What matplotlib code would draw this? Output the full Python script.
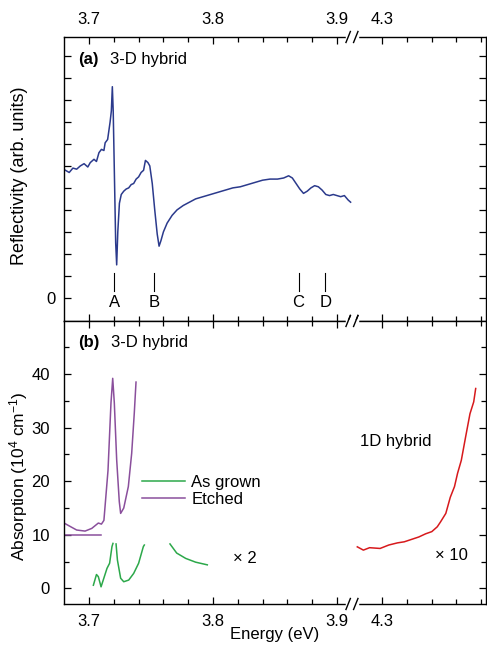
import numpy as np
import matplotlib
matplotlib.use('Agg')
import matplotlib.pyplot as plt

plt.rcParams['font.family'] = ['Liberation Sans', 'DejaVu Sans']
plt.rcParams['font.size'] = 12
plt.rcParams['mathtext.fontset'] = 'custom'
plt.rcParams['mathtext.rm'] = 'Liberation Sans'
plt.rcParams['mathtext.it'] = 'Liberation Sans:italic'

# Энергия (эВ) и отражение, панель (a)
refl_e = [3.681, 3.684, 3.687, 3.690, 3.693, 3.696, 3.699, 3.701, 3.704, 3.706,
          3.708, 3.710, 3.712, 3.713, 3.715, 3.716, 3.717, 3.718, 3.7188, 3.7195,
          3.7205, 3.7215, 3.7223, 3.7232, 3.7245, 3.726, 3.728, 3.730, 3.732, 3.734,
          3.736, 3.738, 3.740, 3.742, 3.744, 3.7455, 3.7475, 3.749, 3.751, 3.753,
          3.755, 3.7565, 3.758, 3.760, 3.763, 3.767, 3.771, 3.776, 3.781, 3.786,
          3.792, 3.798, 3.804, 3.810, 3.816, 3.822, 3.828, 3.834, 3.840, 3.846,
          3.852, 3.857, 3.861, 3.864, 3.867, 3.870, 3.873, 3.876, 3.879, 3.882,
          3.885, 3.888, 3.891, 3.894, 3.897, 3.900, 3.903, 3.906, 3.909, 3.911]
refl_r = [5.8, 5.7, 5.9, 5.85, 6.0, 6.1, 5.95, 6.15, 6.3, 6.2,
          6.6, 6.75, 6.7, 7.05, 7.2, 7.6, 8.0, 8.5, 9.6, 8.5,
          5.5, 2.5, 1.5, 3.0, 4.3, 4.7, 4.85, 4.95, 5.0, 5.15,
          5.2, 5.4, 5.5, 5.7, 5.8, 6.25, 6.15, 6.0, 5.2, 4.0,
          2.9, 2.35, 2.6, 3.0, 3.4, 3.75, 4.0, 4.2, 4.35, 4.5,
          4.6, 4.7, 4.8, 4.9, 5.0, 5.05, 5.15, 5.25, 5.35, 5.4,
          5.4, 5.45, 5.55, 5.45, 5.2, 4.95, 4.75, 4.85, 5.0, 5.1,
          5.05, 4.9, 4.7, 4.65, 4.7, 4.65, 4.6, 4.65, 4.45, 4.35]

mark_names = ['A', 'B', 'C', 'D']
mark_e = [3.7204, 3.7527, 3.869, 3.8907]

# Панель (b): протравленный образец
etched_e = [3.6806, 3.690, 3.6968, 3.7022, 3.7075, 3.710, 3.712, 3.7153, 3.7177, 3.7191,
            3.7204, 3.7223, 3.7244, 3.7255, 3.728, 3.7317, 3.7344, 3.7365, 3.7379]
etched_a = [12.1, 10.9, 10.7, 11.2, 12.2, 12.0, 12.7, 22.0, 34.6, 39.2,
            34.6, 24.0, 16.2, 14.0, 15.0, 19.0, 25.2, 32.7, 38.5]
etched_base_e = [3.6806, 3.710]
etched_base = [10, 10]

# Исходный образец (x2), с разрывами
grown_e = [3.7035, 3.706, 3.7075, 3.7097, 3.7145, 3.7166, 3.7185, 3.7193, np.nan,
           3.7218, 3.7229, 3.7255, 3.728, 3.732, 3.736, 3.740, 3.7438, 3.7446, np.nan,
           3.7653, 3.7707, 3.778, 3.786, 3.7954]
grown_a = [0.6, 2.6, 2.2, 0.3, 3.75, 4.7, 7.8, 8.4, np.nan,
           8.3, 5.3, 1.9, 1.25, 1.56, 2.8, 4.7, 7.8, 8.1, np.nan,
           8.3, 6.6, 5.6, 4.9, 4.4]

# 1D гибрид (x10)
hyb_e = [4.2801, 4.285, 4.290, 4.2985, 4.3055, 4.3125, 4.318, 4.3245, 4.3297, 4.3353,
         4.3402, 4.3446, 4.3472, 4.3515, 4.3551, 4.3585, 4.3610, 4.3640, 4.3675, 4.3710,
         4.3740, 4.3756]
hyb_a = [7.76, 7.15, 7.6, 7.46, 8.1, 8.5, 8.7, 9.2, 9.6, 10.2,
         10.6, 11.5, 12.4, 14.0, 17.0, 19.0, 21.5, 23.9, 28.3, 32.6,
         34.8, 37.3]

U_BREAK = 3.9121
U_43 = 3.9363


def to_u(e):
    e = np.asarray(e, dtype=float)
    return np.where(e > 4.0, e - 4.3 + U_43, e)


xlim = (3.6798, 4.0202)
major_u = [3.7, 3.8, 3.9, U_43]
major_lab = ['3.7', '3.8', '3.9', '4.3']
minor_u = [3.72, 3.74, 3.76, 3.78, 3.82, 3.84, 3.86, 3.88] + [U_43 + 0.02 * k for k in range(1, 5)]

fig = plt.figure(figsize=(4.87, 6.5), dpi=100)
ax_a = fig.add_axes([0.1314, 0.5062, 0.8665, 0.4369])
ax_b = fig.add_axes([0.1314, 0.0708, 0.8665, 0.4354])

for ax in (ax_a, ax_b):
    ax.set_xlim(*xlim)
    ax.set_xticks(major_u)
    ax.set_xticks(minor_u, minor=True)
    ax.tick_params(which='both', direction='in', top=True, right=True, width=0.9)
    ax.tick_params(which='major', length=5, pad=7.5)
    ax.tick_params(which='minor', length=3.5)
    for s in ax.spines.values():
        s.set_linewidth(1.0)

# (a)
ax_a.plot(to_u(refl_e), refl_r, color='#2b3a8c', lw=1.1)
for name, e in zip(mark_names, mark_e):
    ax_a.plot([e, e], [0.32, 1.14], color='black', lw=0.8)
    ax_a.text(e, -0.22, name, ha='center', va='center')
ax_a.set_ylim(-1.05, 11.86)
ax_a.set_yticks(range(0, 12))
ax_a.set_yticklabels(['0'] + [''] * 11)
ax_a.tick_params(axis='y', pad=6)
ax_a.set_xticklabels(major_lab)
ax_a.tick_params(axis='x', labelbottom=False, labeltop=True)
ax_a.set_ylabel('Reflectivity (arb. units)', fontsize=13)
ax_a.yaxis.set_label_coords(-0.085, 0.512)
ax_a.text(3.6911, 10.82, '(a)', fontweight='bold', va='center')
ax_a.text(3.717, 10.82, '3-D hybrid', va='center')

# (b)
ax_b.plot(to_u(grown_e), grown_a, color='#2ca84a', lw=1.1, label='As grown')
ax_b.plot(to_u(etched_e), etched_a, color='#8a4f9c', lw=1.1, label='Etched')
ax_b.plot(to_u(etched_base_e), etched_base, color='#8a4f9c', lw=1.1)
ax_b.plot(to_u(hyb_e), hyb_a, color='#d7191c', lw=1.1)
ax_b.set_ylim(-2.9, 49.9)
ax_b.set_yticks([0, 10, 20, 30, 40])
ax_b.set_yticks([5, 15, 25, 35, 45], minor=True)
ax_b.tick_params(axis='y', which='major', pad=10)
ax_b.set_xticklabels(major_lab)
ax_b.set_ylabel('Absorption (10$^{4}$ cm$^{-1}$)', fontsize=12.5)
ax_b.yaxis.set_label_coords(-0.08, 0.452)
ax_b.set_xlabel('Energy (eV)')
ax_b.xaxis.set_label_coords(0.5, -0.08)
ax_b.text(3.6911, 45.95, '(b)', fontweight='bold', va='center')
ax_b.text(3.7177, 45.95, '3-D hybrid', va='center')
ax_b.text(3.8161, 5.65, '\u00d7 2', va='center')
ax_b.text(3.979, 6.2, '\u00d7 10', va='center')
ax_b.text(3.9185, 27.35, '1D hybrid', va='center')
ax_b.legend(loc='upper left', bbox_to_anchor=(0.185, 0.455), frameon=False,
            handlelength=2.6, handletextpad=0.36, labelspacing=0.12,
            borderpad=0, borderaxespad=0)

# знаки разрыва оси
def break_marks(ax, y):
    xf = (U_BREAK - xlim[0]) / (xlim[1] - xlim[0])
    h_px = ax.get_position().height * fig.get_figheight() * fig.dpi
    w_px = ax.get_position().width * fig.get_figwidth() * fig.dpi
    dx, dy = 2.2 / w_px, 5.5 / h_px
    ax.plot([xf - 0.012, xf + 0.012], [y, y], color='white', lw=2.5,
            transform=ax.transAxes, clip_on=False, zorder=5)
    for c in (xf - 0.009, xf + 0.009):
        ax.plot([c - dx, c + dx], [y - dy, y + dy], color='black', lw=1.0,
                transform=ax.transAxes, clip_on=False, zorder=6)

for ax in (ax_a, ax_b):
    break_marks(ax, 0)
    break_marks(ax, 1)

fig.savefig('out.png', dpi=100)
